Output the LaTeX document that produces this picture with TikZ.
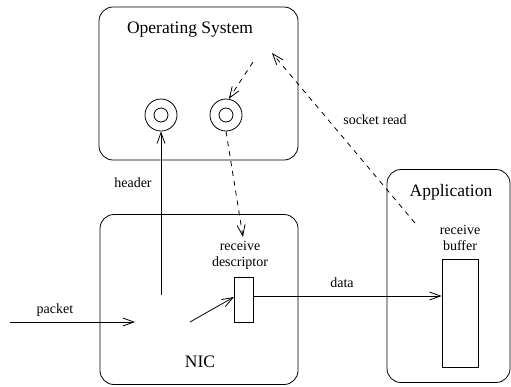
\documentclass[tikz,border=0pt]{standalone}
\usepackage{fontspec}
\setmainfont{Liberation Serif}
\usetikzlibrary{arrows.meta}
\begin{document}
\begin{tikzpicture}[x=1pt,y=-1pt,line width=0.8pt,
  box/.style={draw,rounded corners=14pt,inner sep=0pt},
  plain/.style={draw,inner sep=0pt},
  big/.style={font=\fontsize{17.5}{20}\selectfont,inner sep=0pt},
  small/.style={font=\fontsize{14}{16}\selectfont,inner sep=0pt,align=center},
  arr/.style={-{Straight Barb[length=11pt,width=8pt]}},
  dsh/.style={arr,dash pattern=on 5pt off 5pt}]
\useasboundingbox (0,0) rectangle (511,386);

% main blocks
\node[box,minimum width=199pt,minimum height=153pt] (os) at (198.5,83.5) {};
\node[box,minimum width=198pt,minimum height=170pt] (nic) at (199,299.5) {};
\node[box,minimum width=123pt,minimum height=213pt] (app) at (448.5,276) {};

\node[big] (ostitle) at (190,30) {Operating System};
\node[big] (nictitle) at (200,362) {NIC};
\node[big] (apptitle) at (451,192) {Application};

% queues in the operating system
\node[draw,circle,minimum size=32pt,inner sep=0pt] (c1) at (161,115) {};
\node[draw,circle,minimum size=14pt,inner sep=0pt] (c1i) at (161,115) {};
\node[draw,circle,minimum size=32pt,inner sep=0pt] (c2) at (226,115) {};
\node[draw,circle,minimum size=14pt,inner sep=0pt] (c2i) at (226,115) {};

% descriptor and buffer
\node[plain,minimum width=19pt,minimum height=45pt] (desc) at (243.5,299.5) {};
\node[small] (desclbl) at (240,255) {receive\\descriptor};
\node[plain,minimum width=36pt,minimum height=108pt] (buf) at (460,313) {};
\node[small] (buflbl) at (460,238) {receive\\buffer};

% free ends of connectors
\coordinate (pin) at (10,322);
\coordinate (pend) at (135,322);
\coordinate (split) at (161,295);
\coordinate (fwd) at (190,322);
\coordinate (fwdend) at (234,297);
\coordinate (dtip) at (243,237);
\coordinate (osmid) at (253,62);
\coordinate (rdstart) at (415,223);
\coordinate (rdend) at (272,53);
\coordinate (dstart) at (253,296);

% connectors
\draw[arr] (pin) -- (pend);
\draw[arr] (split) -- (c1.south);
\draw[arr] (fwd) -- (fwdend);
\draw[arr] (dstart) -- (dstart -| buf.west);
\draw[dsh] (c2.south) -- (dtip);
\draw[dsh] (osmid) -- (c2.80);
\draw[dsh] (rdstart) -- (rdend);

% labels
\node[small] (pktlbl) at (55,310) {packet};
\node[small] (hdrlbl) at (133,183) {header};
\node[small] (datalbl) at (342,283) {data};
\node[small] (rdlbl) at (375,120) {socket read};
\end{tikzpicture}
\end{document}
